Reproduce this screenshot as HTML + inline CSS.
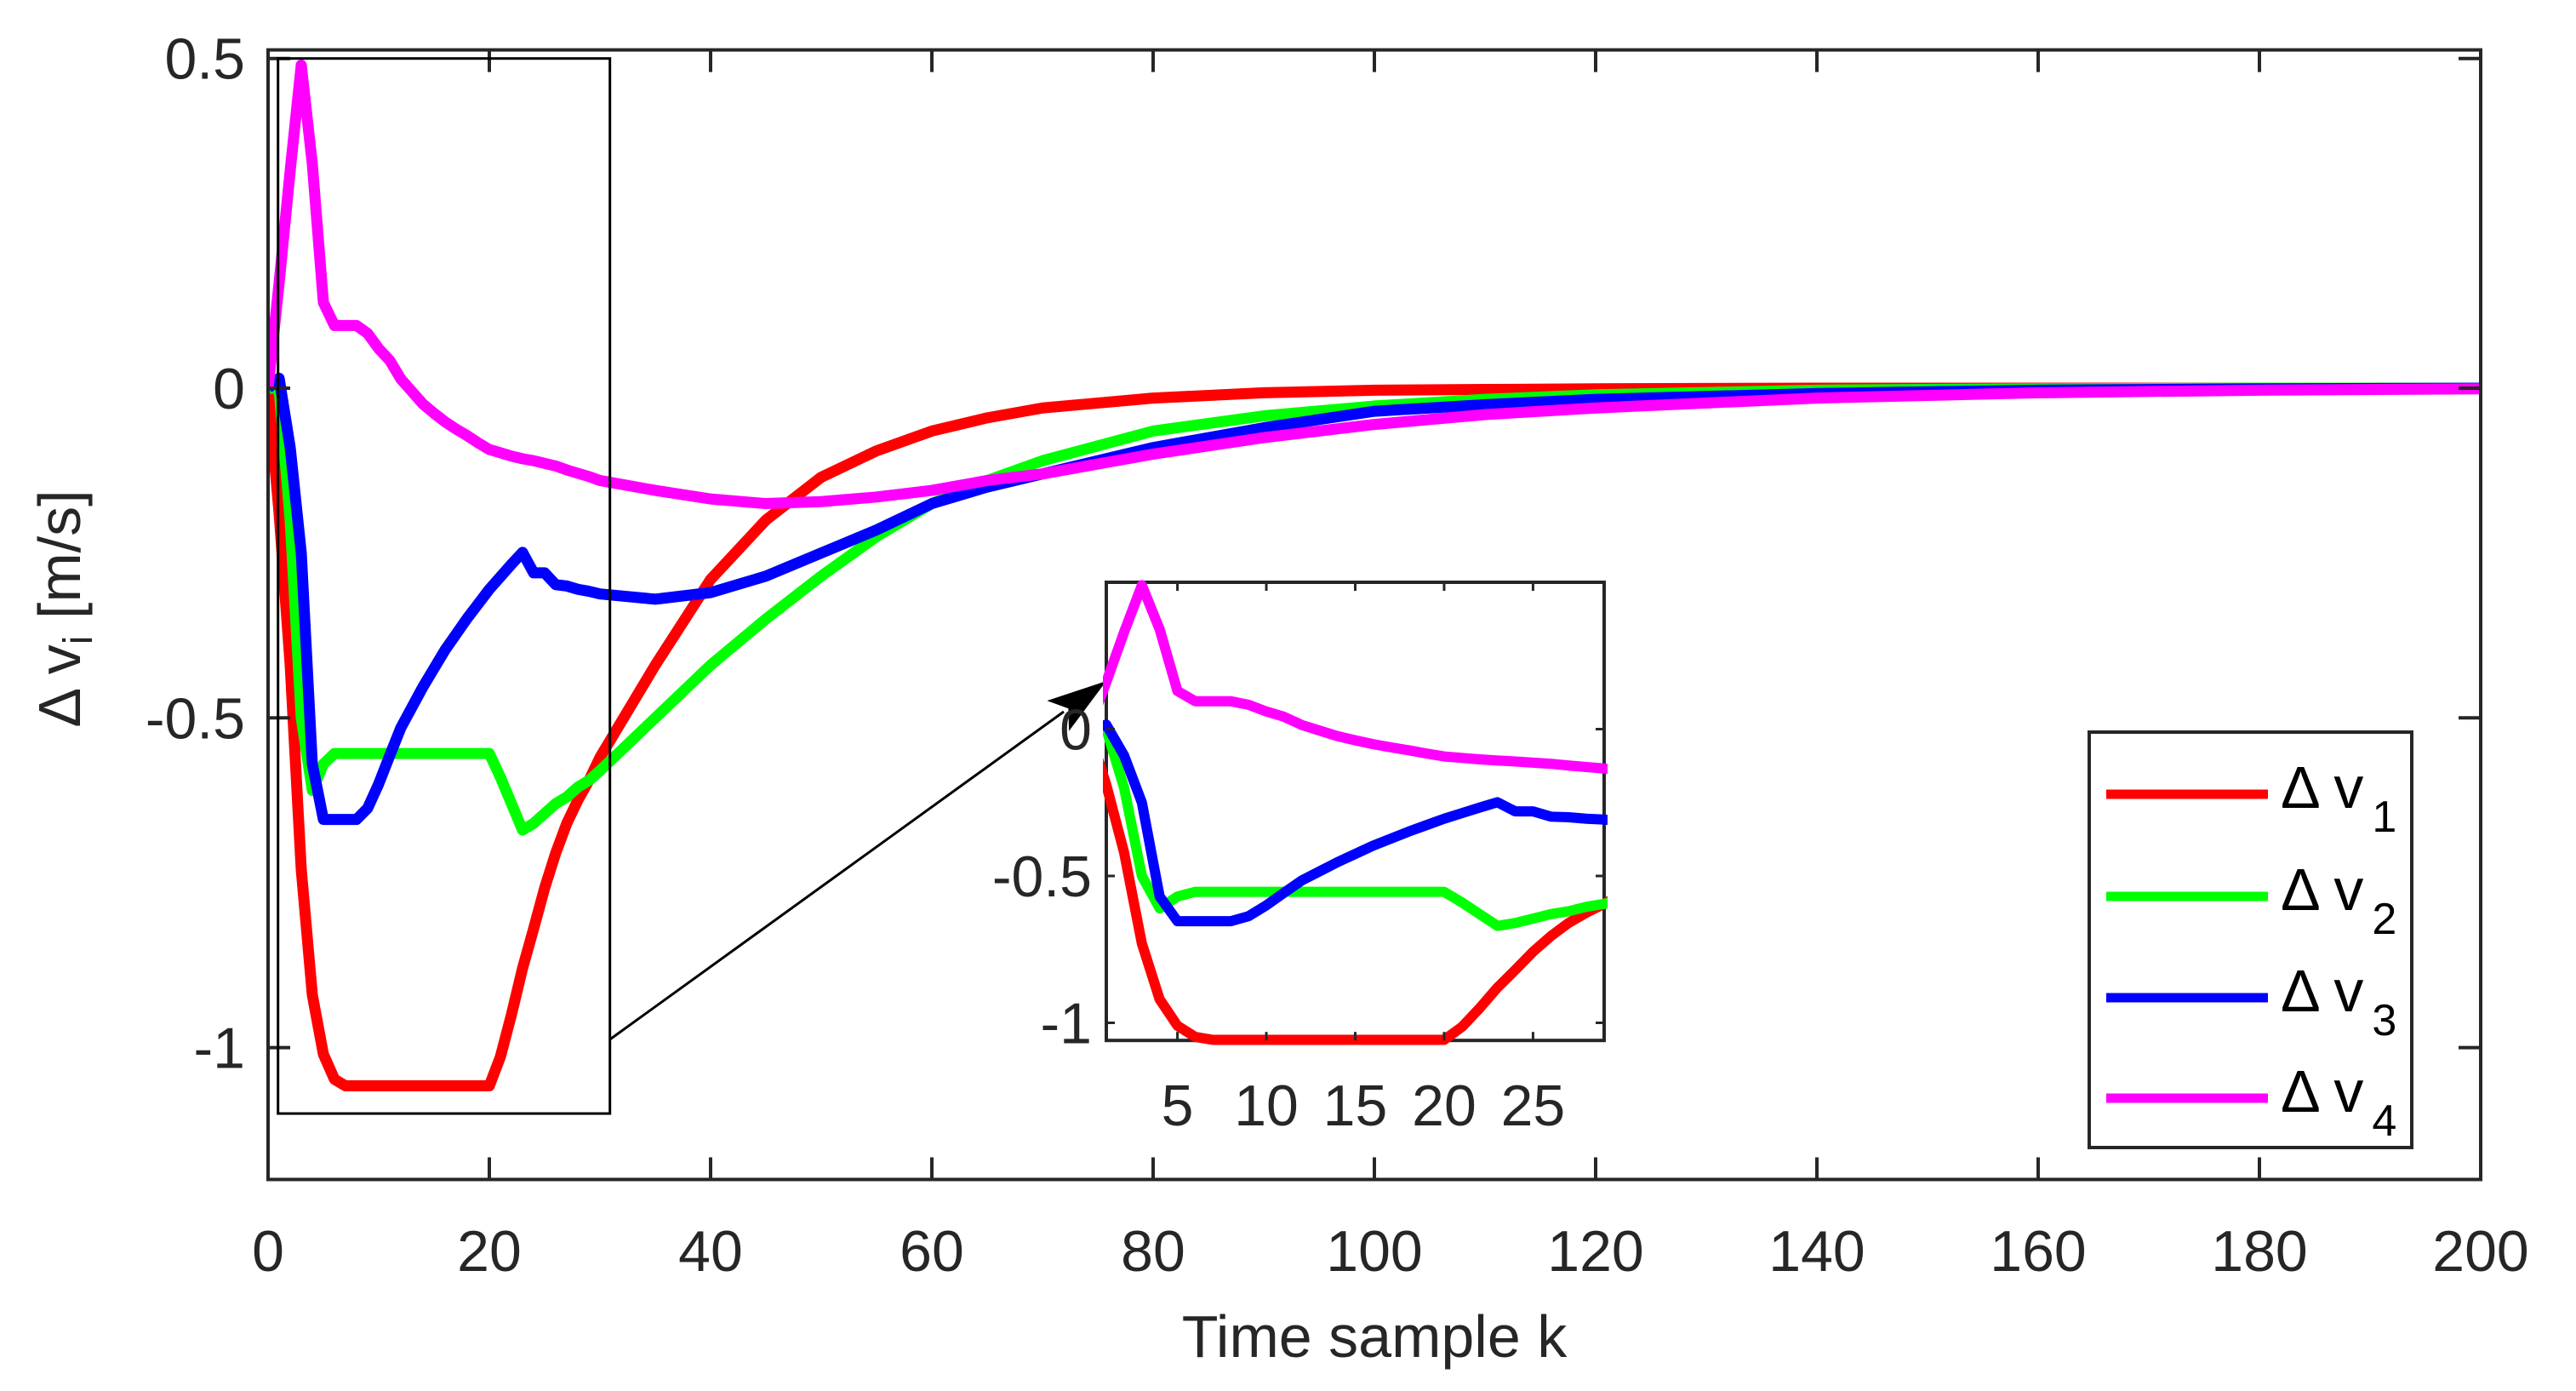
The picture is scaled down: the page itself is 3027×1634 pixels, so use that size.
<!DOCTYPE html>
<html><head><meta charset="utf-8"><style>
html,body{margin:0;padding:0;background:#fff;}
svg{display:block;font-family:"Liberation Sans",sans-serif;}
</style></head><body>
<svg id="chart" width="3027" height="1634" viewBox="0 0 3027 1634" xmlns="http://www.w3.org/2000/svg">
<rect width="3027" height="1634" fill="#fff"/>
<defs>
<clipPath id="mainClip"><rect x="315" y="50" width="2600" height="1334"/></clipPath>
<clipPath id="insetClip"><rect x="1296" y="680" width="593" height="548"/></clipPath>
</defs>
<g id="main"></g>
<g id="inset"></g>
<g id="legend"></g>
</svg>
<script>
const ks = [0,1,2,3,4,5,6,7,8,9,10,11,12,13,14,15,16,17,18,19,20,21,22,23,24,25,26,27,28,29,30,35,40,45,50,55,60,65,70,80,90,100,110,120,140,160,180,200];
const dv1 = [0,-0.19,-0.42,-0.73,-0.92,-1.01,-1.048,-1.058,-1.058,-1.058,-1.058,-1.058,-1.058,-1.058,-1.058,-1.058,-1.058,-1.058,-1.058,-1.058,-1.058,-1.014,-0.95,-0.88,-0.82,-0.758,-0.705,-0.66,-0.625,-0.595,-0.56,-0.42,-0.29,-0.2,-0.135,-0.095,-0.065,-0.045,-0.03,-0.015,-0.007,-0.003,-0.002,-0.001,0,0,0,0];
const dv2 = [0,0,-0.2,-0.5,-0.61,-0.57,-0.554,-0.554,-0.554,-0.554,-0.554,-0.554,-0.554,-0.554,-0.554,-0.554,-0.554,-0.554,-0.554,-0.554,-0.554,-0.59,-0.63,-0.67,-0.66,-0.645,-0.63,-0.62,-0.605,-0.595,-0.58,-0.5,-0.42,-0.35,-0.285,-0.225,-0.175,-0.14,-0.11,-0.065,-0.042,-0.027,-0.017,-0.01,-0.003,-0.001,0,0];
const dv3 = [0,0.015,-0.09,-0.25,-0.57,-0.654,-0.654,-0.654,-0.654,-0.637,-0.6,-0.557,-0.515,-0.484,-0.453,-0.425,-0.397,-0.373,-0.349,-0.327,-0.305,-0.286,-0.267,-0.249,-0.28,-0.28,-0.298,-0.3,-0.305,-0.308,-0.312,-0.32,-0.31,-0.285,-0.25,-0.215,-0.175,-0.15,-0.13,-0.09,-0.06,-0.035,-0.025,-0.017,-0.008,-0.003,-0.001,0];
const dv4 = [0,0.16,0.33,0.49,0.34,0.13,0.095,0.095,0.095,0.083,0.06,0.042,0.014,-0.005,-0.024,-0.038,-0.051,-0.062,-0.072,-0.083,-0.093,-0.098,-0.103,-0.107,-0.11,-0.114,-0.118,-0.124,-0.129,-0.134,-0.14,-0.155,-0.168,-0.175,-0.172,-0.165,-0.155,-0.14,-0.13,-0.1,-0.075,-0.055,-0.04,-0.03,-0.015,-0.007,-0.003,-0.001];
const seriesNames = ["Δ v1","Δ v2","Δ v3","Δ v4"];
const xTicks = [0,20,40,60,80,100,120,140,160,180,200];
const yTicks = [0.5,0,-0.5,-1];
const yTickLabels = ["0.5","0","-0.5","-1"];
const insetXTicks = [5,10,15,20,25];
const insetYTicks = [0,-0.5,-1];
const insetYTickLabels = ["0","-0.5","-1"];

const colors = ["#ff0000","#00ff00","#0000ff","#ff00ff"];
const allSeries = [dv1,dv2,dv3,dv4];
const NS = "http://www.w3.org/2000/svg";
const TC = "#262626";
function mk(tag, attrs, parent){const e=document.createElementNS(NS,tag);for(const k in attrs)e.setAttribute(k,attrs[k]);parent.appendChild(e);return e;}

const M = {x0:315,x1:2915,kmin:0,kmax:200,y0:456,unit:774.6};
function X(k){return M.x0+(k-M.kmin)/(M.kmax-M.kmin)*(M.x1-M.x0);}
function Y(v){return M.y0-v*M.unit;}
const yTop=Y(0.513), yBot=Y(-1.2);
const I = {x0:1300,x1:1885,kmin:1,kmax:29,y0:856.5,unit:345};
function IX(k){return I.x0+(k-I.kmin)/(I.kmax-I.kmin)*(I.x1-I.x0);}
function IY(v){return I.y0-v*I.unit;}
const iTop=IY(0.5), iBot=IY(-1.06);

const main=document.getElementById('main');
allSeries.forEach((s,i)=>{
  const p=mk('polyline',{points:ks.map((k,j)=>X(k)+','+Y(s[j])).join(' '),fill:'none',stroke:colors[i],'stroke-width':13,'stroke-linejoin':'round','clip-path':'url(#mainClip)'},main);
  
  
});
const box=mk('rect',{x:M.x0,y:yTop,width:M.x1-M.x0,height:yBot-yTop,fill:'none',stroke:TC,'stroke-width':4},main);


xTicks.forEach(t=>{
  const x=X(t);
  mk('line',{x1:x,y1:yBot,x2:x,y2:yBot-26,stroke:TC,'stroke-width':4},main);
  mk('line',{x1:x,y1:yTop,x2:x,y2:yTop+26,stroke:TC,'stroke-width':4},main);
  const tx=mk('text',{x:x,y:1493,'text-anchor':'middle','font-size':68,fill:TC},main);
  tx.textContent=t;
  
  
});
yTicks.forEach((t,i)=>{
  const y=Y(t);
  mk('line',{x1:M.x0,y1:y,x2:M.x0+26,y2:y,stroke:TC,'stroke-width':4},main);
  mk('line',{x1:M.x1,y1:y,x2:M.x1-26,y2:y,stroke:TC,'stroke-width':4},main);
  const tx=mk('text',{x:288,y:y+24,'text-anchor':'end','font-size':68,fill:TC},main);
  tx.textContent=yTickLabels[i];
  
  
});
const xt=mk('text',{x:1615,y:1594,'text-anchor':'middle','font-size':70,fill:TC},main);
xt.textContent='Time sample k';


const yt=mk('text',{x:0,y:0,'text-anchor':'middle','font-size':70,fill:TC,transform:'translate(94,715) rotate(-90)'},main);
yt.innerHTML='Δ v<tspan font-size="48" dy="14">i</tspan><tspan dy="-14"> [m/s]</tspan>';


const zr=mk('rect',{x:X(0.9),y:Y(0.5),width:X(30.9)-X(0.9),height:Y(-1.1)-Y(0.5),fill:'none',stroke:'#000','stroke-width':3},main);


const ax1=X(30.9), ay1=1221, ax2=1300, ay2=800;
const cl=mk('line',{x1:ax1,y1:ay1,x2:ax2-50,y2:ay2+36,stroke:'#000','stroke-width':3},main);


const ang=Math.atan2(ay2-ay1,ax2-ax1);
function pt(d,o){return [ax2-d*Math.cos(ang)-o*Math.sin(ang), ay2-d*Math.sin(ang)+o*Math.cos(ang)];}
const a=pt(70,22),b=pt(70,-22),c=pt(55,0);
const ah=mk('polygon',{points:[ax2+','+ay2,a.join(','),c.join(','),b.join(',')].join(' '),fill:'#000'},main);



const inset=document.getElementById('inset');
mk('rect',{x:I.x0,y:iTop,width:I.x1-I.x0,height:iBot-iTop,fill:'#fff'},inset);
const ib=mk('rect',{x:I.x0,y:iTop,width:I.x1-I.x0,height:iBot-iTop,fill:'none',stroke:TC,'stroke-width':4},inset);


allSeries.forEach((s,i)=>{
  const pts=[];
  ks.forEach((k,j)=>{if(k>=0&&k<=30)pts.push(IX(k)+','+IY(s[j]));});
  const p=mk('polyline',{points:pts.join(' '),fill:'none',stroke:colors[i],'stroke-width':12,'stroke-linejoin':'round','clip-path':'url(#insetClip)'},inset);
  
  
});
insetXTicks.forEach(t=>{
  const x=IX(t);
  mk('line',{x1:x,y1:iBot,x2:x,y2:iBot-10,stroke:TC,'stroke-width':3},inset);
  mk('line',{x1:x,y1:iTop,x2:x,y2:iTop+10,stroke:TC,'stroke-width':3},inset);
  const tx=mk('text',{x:x,y:1322,'text-anchor':'middle','font-size':68,fill:TC},inset);
  tx.textContent=t;
  
  
});
insetYTicks.forEach((t,i)=>{
  const y=IY(t);
  mk('line',{x1:I.x0,y1:y,x2:I.x0+10,y2:y,stroke:TC,'stroke-width':3},inset);
  mk('line',{x1:I.x1,y1:y,x2:I.x1-10,y2:y,stroke:TC,'stroke-width':3},inset);
  const tx=mk('text',{x:1283,y:y+24,'text-anchor':'end','font-size':68,fill:TC},inset);
  tx.textContent=insetYTickLabels[i];
  
  
});

const lg=document.getElementById('legend');
const lb=mk('rect',{x:2455,y:860,width:379,height:488,fill:'#fff',stroke:TC,'stroke-width':4},lg);


const rowY=[933,1053,1172,1290];
seriesNames.forEach((n,i)=>{
  const g=mk('g',{},lg);
  
  
  mk('line',{x1:2475,y1:rowY[i],x2:2665,y2:rowY[i],stroke:colors[i],'stroke-width':11},g);
  const t=mk('text',{x:2680,y:rowY[i]+16,'font-size':70,fill:'#000'},g);
  t.innerHTML='Δ v<tspan font-size="52" dx="10" dy="28">'+(i+1)+'</tspan>';
});
</script>
</body></html>
